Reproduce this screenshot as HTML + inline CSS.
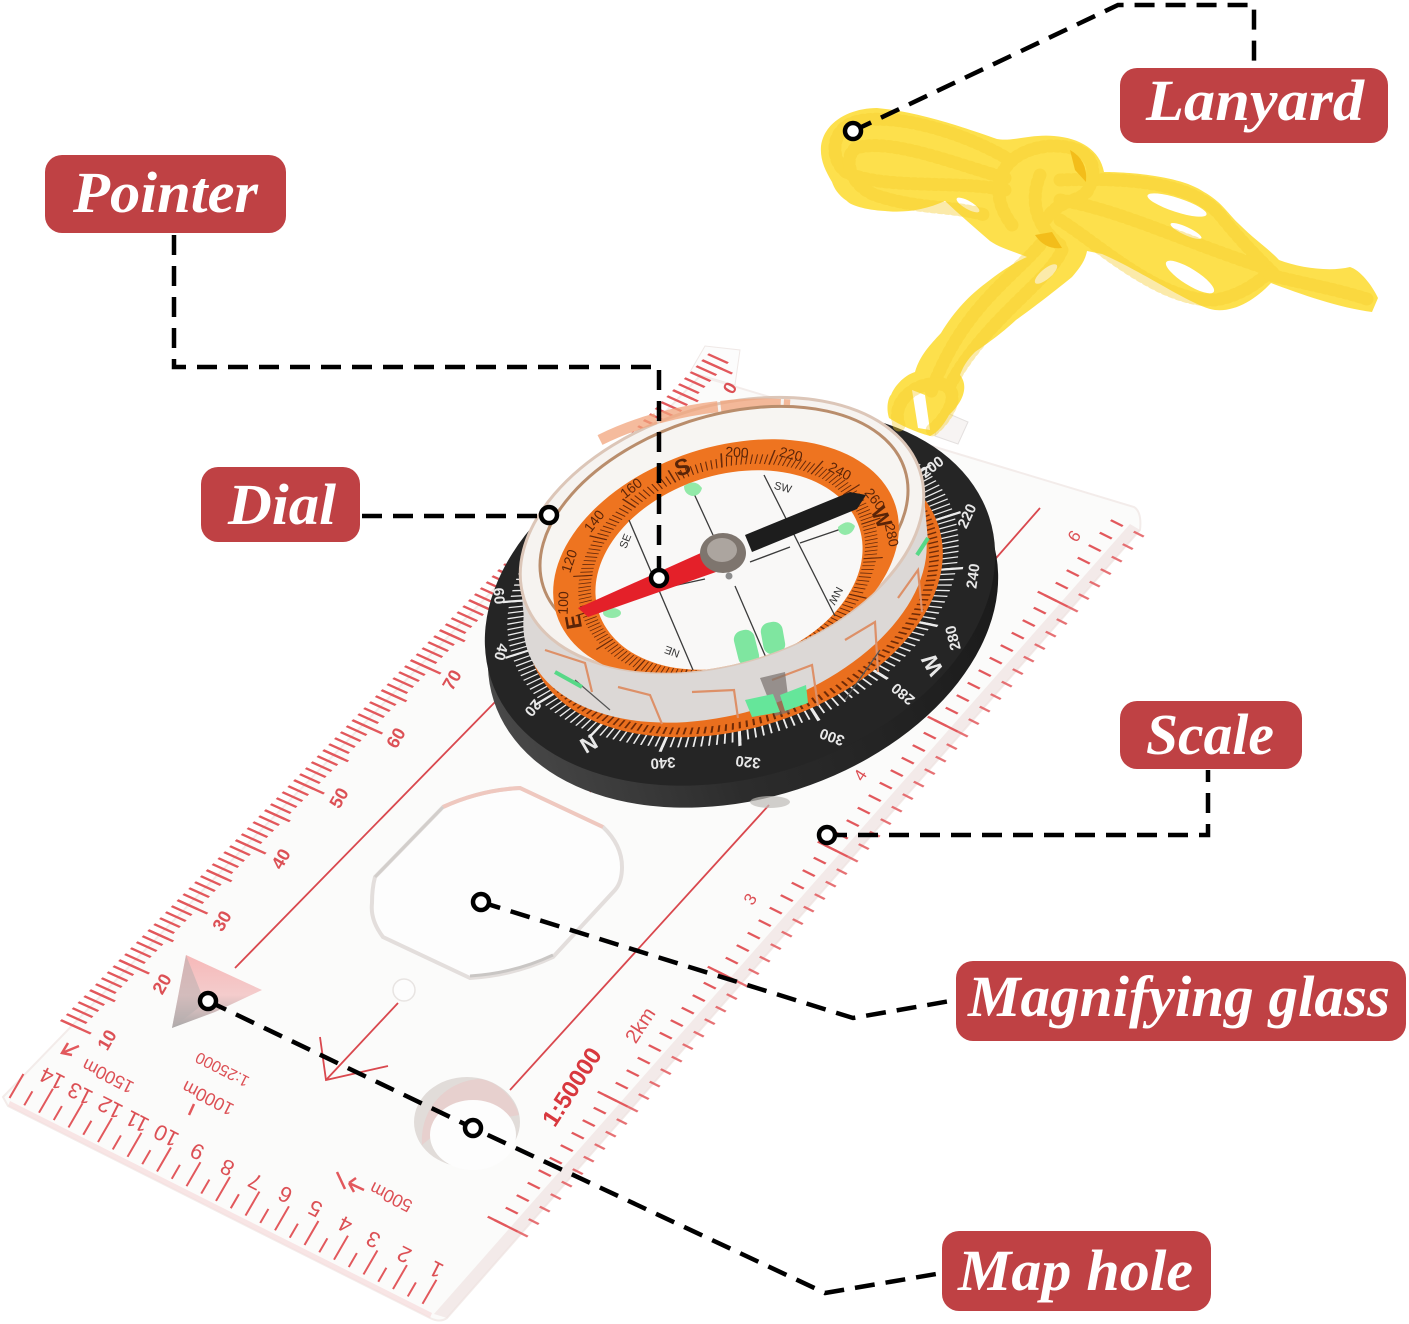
<!DOCTYPE html>
<html>
<head>
<meta charset="utf-8">
<style>
html,body{margin:0;padding:0;background:#fff}
svg{display:block}
.lb{font-family:"Liberation Serif",serif;font-weight:bold;font-style:italic;font-size:58px;fill:#fff}
.r{font-family:"Liberation Sans",sans-serif;fill:#dc5055}
.w{font-family:"Liberation Sans",sans-serif;fill:#e8e8e8;font-size:15px;font-weight:bold;text-anchor:middle}
.o{font-family:"Liberation Sans",sans-serif;fill:#5a2408;font-size:14px;text-anchor:middle}
.d{font-family:"Liberation Sans",sans-serif;fill:#333;font-size:11px;text-anchor:middle}
.c{fill:none;stroke:#000;stroke-width:4.5;stroke-dasharray:20 11}
.p{fill:#fff;stroke:#000;stroke-width:4.5}
</style>
</head>
<body>
<svg width="1409" height="1324" viewBox="0 0 1409 1324" xmlns="http://www.w3.org/2000/svg">
<defs>
<g id="rope" fill="none" stroke-linecap="round" stroke-linejoin="round">
<path d="M1010 160C960 130 890 112 855 122C830 130 830 160 846 172C880 190 960 180 1005 190"/>
<path d="M1005 178C950 162 890 138 856 148C842 158 850 185 875 195C920 210 950 205 985 215"/>
<path d="M1040 245C1010 280 960 310 930 395"/>
<path d="M1062 250C1050 280 985 320 950 385"/>
<path d="M899 425C890 400 920 378 945 385C962 395 945 420 932 430"/>
<path d="M1060 180C1120 178 1190 180 1220 215C1240 240 1255 255 1275 275"/>
<path d="M1060 200C1120 210 1180 240 1265 268"/>
<path d="M1060 220C1100 245 1160 302 1215 300C1245 295 1262 278 1270 272"/>
<path d="M1270 275C1310 285 1340 290 1370 300"/>
<path d="M1012 225C985 190 1000 150 1050 146C1090 145 1100 165 1088 190C1078 205 1060 195 1042 225"/>
<path d="M1040 175C1030 200 1035 225 1060 245"/>
</g>
<clipPath id="rim"><ellipse cx="722" cy="535" rx="208" ry="128" transform="rotate(-18 722 535)"/></clipPath>
<linearGradient id="tri" x1="0" y1="0" x2="0" y2="1"><stop offset="0" stop-color="#f6b8b8"/><stop offset=".55" stop-color="#f4cccc"/><stop offset="1" stop-color="#a8a8a8"/></linearGradient>
<linearGradient id="wall" x1="0" y1="0" x2="1" y2="0"><stop offset="0" stop-color="#484848"/><stop offset=".4" stop-color="#2c2c2c"/><stop offset="1" stop-color="#1a1a1a"/></linearGradient>
</defs>
<rect width="1409" height="1324" fill="#fff"/>

<!-- rear tabs -->
<path d="M690 372L705 346L740 350L735 385Z" fill="#fcfcfc" stroke="#efe8e6"/>
<path d="M940 410L968 422L958 444L935 436Z" fill="#f7f4f3" stroke="#e4e0df"/>

<!-- ruler plate -->
<path d="M3 1097L700 376L1134 507Q1142 512 1140 530L447 1318Q440 1323 430 1318L8 1106Z" fill="#fbfbfa" stroke="#f3ecea" stroke-width="2"/>
<path d="M1140 530L447 1318L434 1314L1130 524Z" fill="#efe0dd" opacity=".6"/>
<path d="M8 1106L430 1318L432 1313L10 1101Z" fill="#f6dcdc" opacity=".7"/>

<!-- left ruler ticks -->
<g transform="matrix(5.83,-6,1,.45,60,1021)" fill="none" stroke="#e2585c">
<path d="M0 10H112" stroke-width="20" stroke-dasharray=".3 .7"/>
<path d="M0 15H112" stroke-width="30" stroke-dasharray=".3 9.7"/>
<path d="M5 12.5H112" stroke-width="25" stroke-dasharray=".3 9.7"/>
</g>
<g class="r" font-size="18" font-weight="bold" text-anchor="middle">
<text transform="translate(107 1040) rotate(-60)" dy="6">10</text>
<text transform="translate(162 984) rotate(-60)" dy="6">20</text>
<text transform="translate(222 921) rotate(-60)" dy="6">30</text>
<text transform="translate(281 859) rotate(-60)" dy="6">40</text>
<text transform="translate(339 798) rotate(-60)" dy="6">50</text>
<text transform="translate(396 738) rotate(-60)" dy="6">60</text>
<text transform="translate(452 680) rotate(-60)" dy="6">70</text>
<text transform="translate(730 388) rotate(-60)" dy="6">0</text>
</g>

<!-- bottom ticks -->
<g transform="matrix(-29.5,-14.7,.58,-1,447,1316)" fill="none" stroke="#e2585c">
<path d="M.8 12H15" stroke-width="24" stroke-dasharray=".06 .94"/>
<path d="M1.3 7H15" stroke-width="14" stroke-dasharray=".06 .94"/>
</g>
<g class="r" font-size="22" text-anchor="middle">
<text transform="translate(52 1079) rotate(207)" dy="8">14</text>
<text transform="translate(80 1094) rotate(207)" dy="8">13</text>
<text transform="translate(110 1108) rotate(207)" dy="8">12</text>
<text transform="translate(137 1122) rotate(207)" dy="8">11</text>
<text transform="translate(166 1136) rotate(207)" dy="8">10</text>
<text transform="translate(197 1152) rotate(207)" dy="8">9</text>
<text transform="translate(227 1168) rotate(207)" dy="8">8</text>
<text transform="translate(255 1182) rotate(207)" dy="8">7</text>
<text transform="translate(285 1195) rotate(207)" dy="8">6</text>
<text transform="translate(315 1209) rotate(207)" dy="8">5</text>
<text transform="translate(345 1225) rotate(207)" dy="8">4</text>
<text transform="translate(373 1240) rotate(207)" dy="8">3</text>
<text transform="translate(404 1255) rotate(207)" dy="8">2</text>
<text transform="translate(436 1270) rotate(207)" dy="8">1</text>
</g>
<g class="r" font-size="18" text-anchor="middle">
<text transform="translate(108 1076) rotate(207)" dy="6">1500m</text>
<text transform="translate(208 1098) rotate(207)" dy="6">1000m</text>
<text transform="translate(222 1070) rotate(207)" dy="6" font-size="16">1:25000</text>
<text transform="translate(391 1197) rotate(207)" dy="6">500m</text>
</g>
<g fill="none" stroke="#e2585c" stroke-width="2.5">
<path d="M62 1053L79 1046M68 1043L62 1053L72 1055"/>
<path d="M337 1172L345 1189M349 1183L364 1190M349 1183L356 1178M349 1183L354 1192"/>
<path d="M194 1104L189 1115"/>
</g>

<!-- right ticks -->
<g transform="matrix(11,-12.5,1,.5,762,905)" fill="none" stroke="#e2585c">
<path d="M-25 13H32" stroke-width="12" stroke-dasharray=".14 .86"/>
<path d="M-25 15H32" stroke-width="30" stroke-dasharray=".14 9.86"/>
<path d="M-25 35H32" stroke-width="10" stroke-dasharray=".14 .86" opacity=".85"/>
</g>
<g class="r" text-anchor="middle">
<text transform="translate(572 1087) rotate(-57)" dy="8" font-size="24" font-weight="bold" fill="#d8383e">1:50000</text>
<text transform="translate(640 1025) rotate(-57)" dy="7" font-size="20">2km</text>
<text transform="translate(750 899) rotate(-57)" dy="6" font-size="17">3</text>
<text transform="translate(860 775) rotate(-57)" dy="6" font-size="17">4</text>
<text transform="translate(1074 536) rotate(-57)" dy="6" font-size="17">6</text>
</g>

<!-- red guide lines -->
<g stroke="#d9484e" stroke-width="1.8" fill="none">
<path d="M497 700L235 968"/>
<path d="M1040 508L990 565"/>
<path d="M769 805L510 1090"/>
<path d="M398 1003L326 1080"/>
<path d="M320 1037L326 1080L388 1066"/>
<path d="M597 782L590 792"/>
</g>
<circle cx="404" cy="990" r="11" fill="#fdfdfd" stroke="#e8e4e2" stroke-width="1.5"/>

<!-- triangle -->
<path d="M186 955L262 990L215 1012L172 1028Z" fill="url(#tri)"/>
<path d="M186 955L172 1028L205 1003Z" fill="#b8aeae" opacity=".55"/>

<!-- magnifier -->
<path d="M375 877L443 807Q480 790 520 788L603 827Q622 845 622 867Q622 882 615 890L553 957Q515 975 470 978L383 937Q370 920 372 903Q372 888 375 877Z" fill="#fdfdfd" stroke="#e3dedc" stroke-width="4"/>
<path d="M470 976Q515 973 553 955" fill="none" stroke="#c9c6c4" stroke-width="3"/>
<path d="M443 807Q480 790 520 788L603 827" fill="none" stroke="#efc8bf" stroke-width="4"/>
<path d="M375 877L443 807" fill="none" stroke="#d2cecb" stroke-width="3"/>

<!-- map hole -->
<ellipse cx="467" cy="1122" rx="53" ry="45" fill="#e1dcd9"/>
<path d="M422 1145C420 1105 450 1080 480 1079C500 1082 515 1100 519 1115L490 1120L440 1130Z" fill="#eec3c3" opacity=".5"/>
<ellipse cx="473" cy="1135" rx="43" ry="35" fill="#fdfdfd"/>

<!-- black ring -->
<ellipse cx="743" cy="620" rx="262" ry="178" transform="rotate(-18 743 620)" fill="url(#wall)"/>
<ellipse cx="770" cy="802" rx="20" ry="6" fill="#bdbab7" opacity=".7"/>
<ellipse cx="740" cy="598" rx="262" ry="178" transform="rotate(-18 740 598)" fill="#252525"/>
<g transform="translate(733 585) rotate(-18) scale(1,.66)" fill="none" stroke="#ececec">
<circle r="220" stroke-width="24" pathLength="180" stroke-dasharray=".24 .76"/>
<circle r="221" stroke-width="36" pathLength="180" stroke-dasharray=".4 9.6"/>
</g>
<g class="w">
<text transform="translate(663 763) rotate(176)" dy="5">340</text>
<text transform="translate(748 762) rotate(186)" dy="5">320</text>
<text transform="translate(832 737) rotate(200)" dy="5">300</text>
<text transform="translate(903 694) rotate(220)" dy="5">280</text>
<text transform="translate(932 665) rotate(240)" dy="8" font-size="22">W</text>
<text transform="translate(953 638) rotate(256)" dy="5">280</text>
<text transform="translate(973 576) rotate(278)" dy="5">240</text>
<text transform="translate(967 516) rotate(295)" dy="5">220</text>
<text transform="translate(932 467) rotate(322)" dy="5">200</text>
<text transform="translate(589 744) rotate(150)" dy="8" font-size="22">N</text>
<text transform="translate(533 708) rotate(130)" dy="5">20</text>
<text transform="translate(501 652) rotate(105)" dy="5">40</text>
<text transform="translate(499 596) rotate(85)" dy="5">60</text>
</g>

<!-- orange flange -->
<ellipse cx="735" cy="592" rx="214" ry="136" transform="rotate(-18 735 592)" fill="#ea6f1e"/>
<g transform="translate(735 592) rotate(-18) scale(1,.635)" fill="none" stroke="#6f2a06">
<circle r="205" stroke-width="10" pathLength="180" stroke-dasharray=".3 .7"/>
</g>

<!-- capsule body -->
<ellipse cx="725" cy="585" rx="208" ry="128" transform="rotate(-18 725 585)" fill="#dcd8d6"/>
<path d="M520 574L924 496L928 541L524 619Z" fill="#dcd8d6"/>
<g fill="none" stroke="#dd9068" stroke-width="2.2">
<path d="M545 650L585 663L592 692"/>
<path d="M618 687L650 695L662 724"/>
<path d="M692 692L734 690L738 718"/>
<path d="M772 680L812 665L818 706"/>
<path d="M845 640L875 622L878 672"/>
<path d="M898 598L918 570L922 612"/>
</g>
<path d="M760 678L785 672L790 712L775 716Z" fill="#77716c" opacity=".7"/>
<path d="M745 700L773 694L780 712L752 717Z" fill="#65e69a"/>
<path d="M780 695L806 685L808 703L785 711Z" fill="#65e69a"/>
<path d="M575 680L610 710M845 700L880 650" stroke="#555" stroke-width="1.2" fill="none"/>
<path d="M555 672L582 687" stroke="#57d887" stroke-width="4"/>
<path d="M917 555L928 538" stroke="#57d887" stroke-width="4"/>

<!-- capsule top -->
<ellipse cx="722" cy="535" rx="208" ry="128" transform="rotate(-18 722 535)" fill="#f6f3f0" stroke="#dcc6b8" stroke-width="3"/>
<path d="M600 440C650 415 720 400 790 405" fill="none" stroke="#f2a47c" stroke-width="11" stroke-dasharray="60 3" opacity=".75"/>
<ellipse cx="724" cy="528" rx="190" ry="112" transform="rotate(-18 724 528)" fill="#f7f5f2" stroke="#b98d6c" stroke-width="3"/>

<!-- dial -->
<g clip-path="url(#rim)">
<ellipse cx="726" cy="560" rx="178" ry="113" transform="rotate(-18 726 560)" fill="#ee7420"/>
<g transform="translate(728 567) rotate(-18) scale(1,.7)" fill="none" stroke="#66290a">
<circle r="147" stroke-width="13" pathLength="180" stroke-dasharray=".22 .78"/>
<circle r="150" stroke-width="20" pathLength="180" stroke-dasharray=".3 9.7"/>
</g>
<ellipse cx="729" cy="570" rx="137" ry="95" transform="rotate(-18 729 570)" fill="#f9f8f7"/>
<!-- dial markings -->
<g stroke="#3b3b3b" stroke-width="1.3" fill="none">
<path d="M690 485L713 535"/>
<path d="M764 475L835 616"/>
<path d="M629 520L693 670"/>
<path d="M735 586L767 660"/>
<path d="M750 562L790 547M800 543L841 529"/>
<path d="M659 589L705 579"/>
</g>
<path d="M684 486Q695 478 702 488Q700 496 692 496Q684 494 684 486Z" fill="#92e9a8"/>
<path d="M838 527Q848 518 855 526Q853 534 845 535Q838 534 838 527Z" fill="#92e9a8"/>
<ellipse cx="612" cy="613" rx="9" ry="5" fill="#92e9a8"/>
<rect x="736" y="630" width="21" height="36" rx="9" transform="rotate(-14 746 648)" fill="#7fe6a0"/>
<rect x="762" y="622" width="22" height="32" rx="9" transform="rotate(-10 773 638)" fill="#7fe6a0"/>
<path d="M760 665L785 660L790 668L765 675Z" fill="#b9e8c2"/>
</g>
<g class="o">
<text transform="translate(737 452) rotate(3)" dy="5">200</text>
<text transform="translate(791 454) rotate(14)" dy="5">220</text>
<text transform="translate(840 471) rotate(28)" dy="5">240</text>
<text transform="translate(875 499) rotate(52)" dy="5">260</text>
<text transform="translate(882 517) rotate(65)" dy="8" font-size="22" font-weight="bold">W</text>
<text transform="translate(892 535) rotate(78)" dy="5">280</text>
<text transform="translate(682 466) rotate(-18)" dy="9" font-size="23" font-weight="bold">S</text>
<text transform="translate(631 488) rotate(-38)" dy="5">160</text>
<text transform="translate(594 521) rotate(-52)" dy="5">140</text>
<text transform="translate(569 561) rotate(-72)" dy="5">120</text>
<text transform="translate(563 603) rotate(-88)" dy="5">100</text>
<text transform="translate(573 622) rotate(-100)" dy="8" font-size="22" font-weight="bold">E</text>
</g>
<g class="d">
<text transform="translate(625 541) rotate(-68)" dy="4">SE</text>
<text transform="translate(783 487) rotate(15)" dy="4">SW</text>
<text transform="translate(836 596) rotate(118)" dy="4">NW</text>
<text transform="translate(672 652) rotate(200)" dy="4">NE</text>
</g>
<!-- needle -->
<path d="M745 535L850 492L866 495L857 509L752 552Z" fill="#1d1d1d"/>
<path d="M703 552L716 572L588 617L578 608Z" fill="#e42029"/>
<ellipse cx="723" cy="553" rx="23" ry="20" fill="#7e756e"/>
<ellipse cx="722" cy="550" rx="15" ry="12" fill="#aca59f"/>
<circle cx="729" cy="576" r="3.5" fill="#8d8d8d"/>

<!-- lanyard -->
<path d="M821 146C824 122 850 108 877 108C920 112 965 128 997 139C1012 142 1030 134 1054 136C1080 138 1100 150 1104 172C1125 172 1180 175 1204 192C1222 202 1228 214 1240 225C1255 240 1270 250 1279 260C1300 268 1330 272 1350 267C1360 270 1372 285 1378 298L1372 312C1340 308 1300 294 1271 283C1255 300 1235 312 1215 310C1195 308 1140 270 1102 254L1087 251C1085 262 1078 270 1072 277C1050 295 1030 310 1016 320C1000 335 985 345 975 352C965 362 962 370 960 375C968 385 965 400 949 415C942 428 935 434 930 436C915 432 900 425 889 418C885 405 890 395 891 395C895 385 905 375 915 372C920 355 930 345 941 333C955 310 970 295 986 283C1000 272 1015 262 1027 257C1010 250 1000 248 990 241C975 228 960 215 945 201C925 210 905 213 885 211C865 210 850 205 847 201C838 195 834 188 832 182C825 170 820 160 821 146Z" fill="#fde04c"/>
<g fill="#fff">
<ellipse cx="1177" cy="205" rx="31" ry="7" transform="rotate(18 1177 205)"/>
<ellipse cx="1186" cy="231" rx="17" ry="4" transform="rotate(25 1186 231)"/>
<ellipse cx="1190" cy="277" rx="28" ry="8" transform="rotate(32 1190 277)"/>
<ellipse cx="1046" cy="274" rx="5" ry="14" transform="rotate(50 1046 274)"/>
<ellipse cx="968" cy="205" rx="13" ry="4" transform="rotate(30 968 205)"/>
<path d="M912 390L925 395L930 430L918 428Z"/>
</g>
<use href="#rope" stroke="#f6cd2c" stroke-width="13" stroke-dasharray="2 5" opacity=".4"/>
<path d="M1070 150Q1088 160 1086 182L1075 170Z" fill="#f3bd1a"/>
<path d="M1035 235Q1045 250 1062 248L1052 232Z" fill="#f3bd1a"/>

<!-- connectors -->
<path class="c" d="M853 131L1118 5H1254V68"/>
<path class="c" d="M174 235V367H659V578"/>
<path class="c" d="M362 516H549"/>
<path class="c" d="M827 835H1208V770"/>
<path class="c" d="M481 902L853 1018L956 1000"/>
<path class="c" d="M208 1001L473 1128L825 1293L942 1273"/>
<circle class="p" cx="853" cy="131" r="8"/>
<circle class="p" cx="659" cy="578" r="8"/>
<circle class="p" cx="549" cy="515" r="8"/>
<circle class="p" cx="827" cy="835" r="8"/>
<circle class="p" cx="481" cy="902" r="8"/>
<circle class="p" cx="208" cy="1001" r="8"/>
<circle class="p" cx="473" cy="1128" r="8"/>

<!-- labels -->
<rect x="1120" y="68" width="268" height="75" rx="17" fill="#bf4144"/>
<text class="lb" x="1146" y="120" textLength="218" lengthAdjust="spacingAndGlyphs">Lanyard</text>
<rect x="45" y="155" width="241" height="78" rx="17" fill="#bf4144"/>
<text class="lb" x="73" y="212" textLength="185" lengthAdjust="spacingAndGlyphs">Pointer</text>
<rect x="201" y="467" width="159" height="75" rx="17" fill="#bf4144"/>
<text class="lb" x="228" y="524" textLength="108" lengthAdjust="spacingAndGlyphs">Dial</text>
<rect x="1120" y="701" width="182" height="68" rx="17" fill="#bf4144"/>
<text class="lb" x="1146" y="754" textLength="128" lengthAdjust="spacingAndGlyphs">Scale</text>
<rect x="956" y="961" width="450" height="80" rx="17" fill="#bf4144"/>
<text class="lb" x="968" y="1016" textLength="422" lengthAdjust="spacingAndGlyphs">Magnifying glass</text>
<rect x="942" y="1231" width="269" height="80" rx="17" fill="#bf4144"/>
<text class="lb" x="958" y="1290" textLength="235" lengthAdjust="spacingAndGlyphs">Map hole</text>
</svg>
</body>
</html>
